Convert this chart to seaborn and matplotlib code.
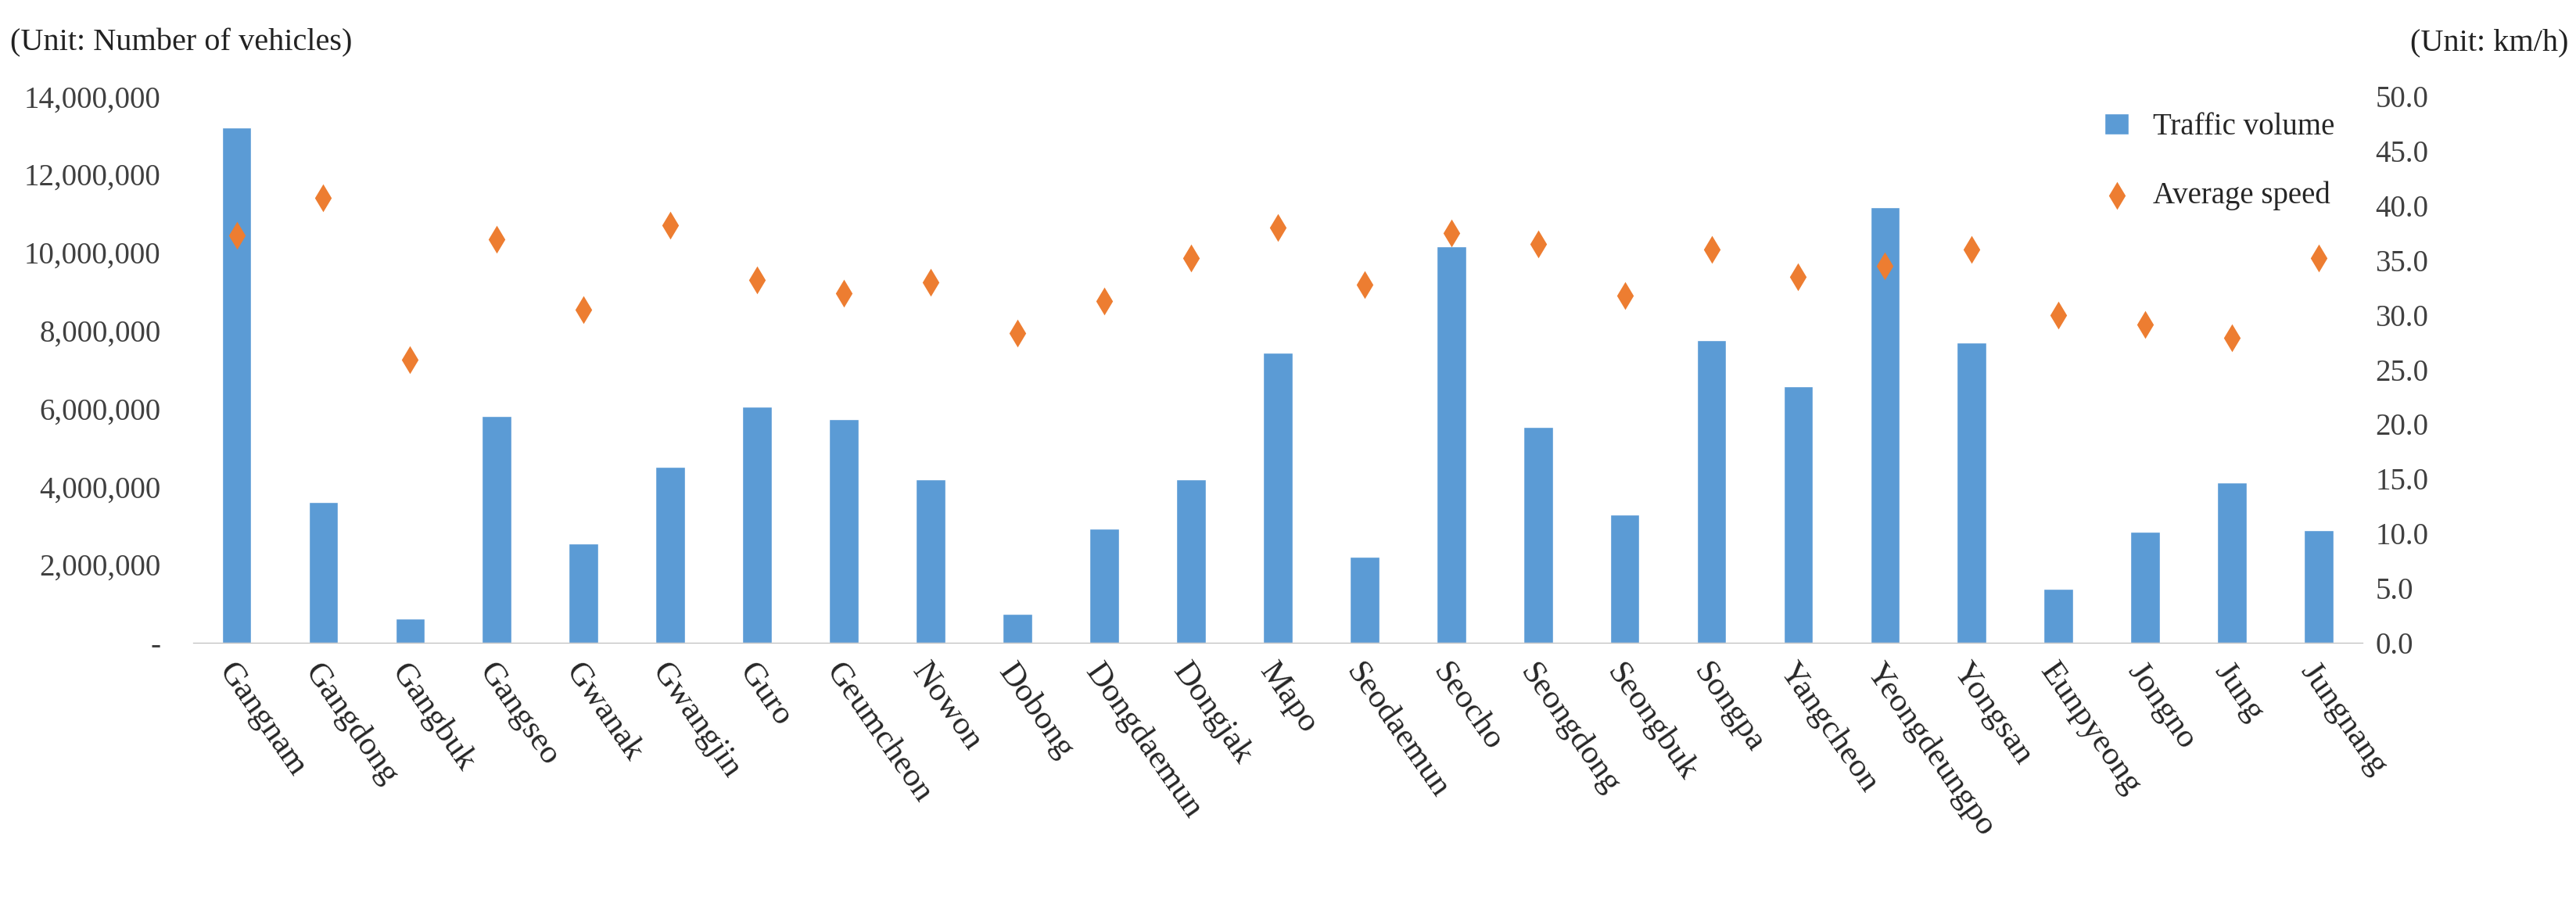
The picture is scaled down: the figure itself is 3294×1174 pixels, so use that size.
import matplotlib
matplotlib.use("Agg")
import matplotlib.pyplot as plt
import seaborn as sns
import pandas as pd
from matplotlib.ticker import FuncFormatter

districts = ["Gangnam","Gangdong","Gangbuk","Gangseo","Gwanak","Gwangjin","Guro","Geumcheon",
             "Nowon","Dobong","Dongdaemun","Dongjak","Mapo","Seodaemun","Seocho","Seongdong",
             "Seongbuk","Songpa","Yangcheon","Yeongdeungpo","Yongsan","Eunpyeong","Jongno","Jung","Jungnang"]
traffic_volume = [13200000,3600000,620000,5800000,2550000,4500000,6050000,5720000,
                  4180000,730000,2920000,4180000,7430000,2200000,10150000,5520000,
                  3290000,7750000,6570000,11150000,7700000,1380000,2840000,4100000,2880000]
average_speed = [37.3,40.7,25.9,36.9,30.5,38.2,33.2,32.0,33.0,28.3,31.3,35.2,38.0,32.8,
                 37.5,36.5,31.8,36.0,33.5,34.5,36.0,30.0,29.1,27.9,35.2]

df = pd.DataFrame({"District": districts, "Traffic volume": traffic_volume, "Average speed": average_speed})

sns.set_style("white")
plt.rcParams["font.family"] = ["Liberation Serif", "DejaVu Serif"]

fig = plt.figure(figsize=(32.94, 11.74), dpi=100)
ax = fig.add_axes([0.075, 0.30, 0.842, 0.595])
blue = "#5B9BD5"; orange = "#ED7D31"
sns.barplot(data=df, x="District", y="Traffic volume", color=blue, width=0.34, ax=ax,
            saturation=1, label="Traffic volume")
ax2 = ax.twinx()
sns.scatterplot(data=df, x="District", y="Average speed", color=orange, marker="d", s=330,
                ax=ax2, label="Average speed", linewidth=0)
ax.set_ylim(0, 14000000)
ax2.set_ylim(0, 50)
ax.set_xlim(-0.5, len(districts) - 0.5)
ax.set_yticks(range(0, 14000001, 2000000))
ax.yaxis.set_major_formatter(FuncFormatter(lambda v, p: "-" if v == 0 else f"{int(v):,}"))
ax2.set_yticks([i * 5 for i in range(11)])
ax2.yaxis.set_major_formatter(FuncFormatter(lambda v, p: f"{v:.1f}"))
for a in (ax, ax2):
    for s in ["top", "left", "right"]:
        a.spines[s].set_visible(False)
    a.spines["bottom"].set_color("#BFBFBF")
    a.set_xlabel(""); a.set_ylabel("")
    a.tick_params(axis="y", length=0, labelsize=28, colors="#404040")
ax.tick_params(axis="x", length=0, labelsize=31, pad=14)
plt.setp(ax.get_xticklabels(), rotation=-55, ha="left", rotation_mode="anchor")
ax.tick_params(axis="y", pad=30)
ax2.tick_params(axis="y", pad=12)

h1, l1 = ax.get_legend_handles_labels()
h2, l2 = ax2.get_legend_handles_labels()
if ax2.get_legend(): ax2.get_legend().remove()
ax.legend(h1 + h2, l1 + l2, loc="upper right", bbox_to_anchor=(1.0, 1.02), frameon=False,
          fontsize=28, labelspacing=1.3, handlelength=0.8, markerscale=1)

fig.text(0.004, 0.945, "(Unit: Number of vehicles)", fontsize=29, color="#222222")
fig.text(0.997, 0.945, "(Unit: km/h)", fontsize=29, color="#222222", ha="right")
fig.savefig("out.png", dpi=100, facecolor="white")
